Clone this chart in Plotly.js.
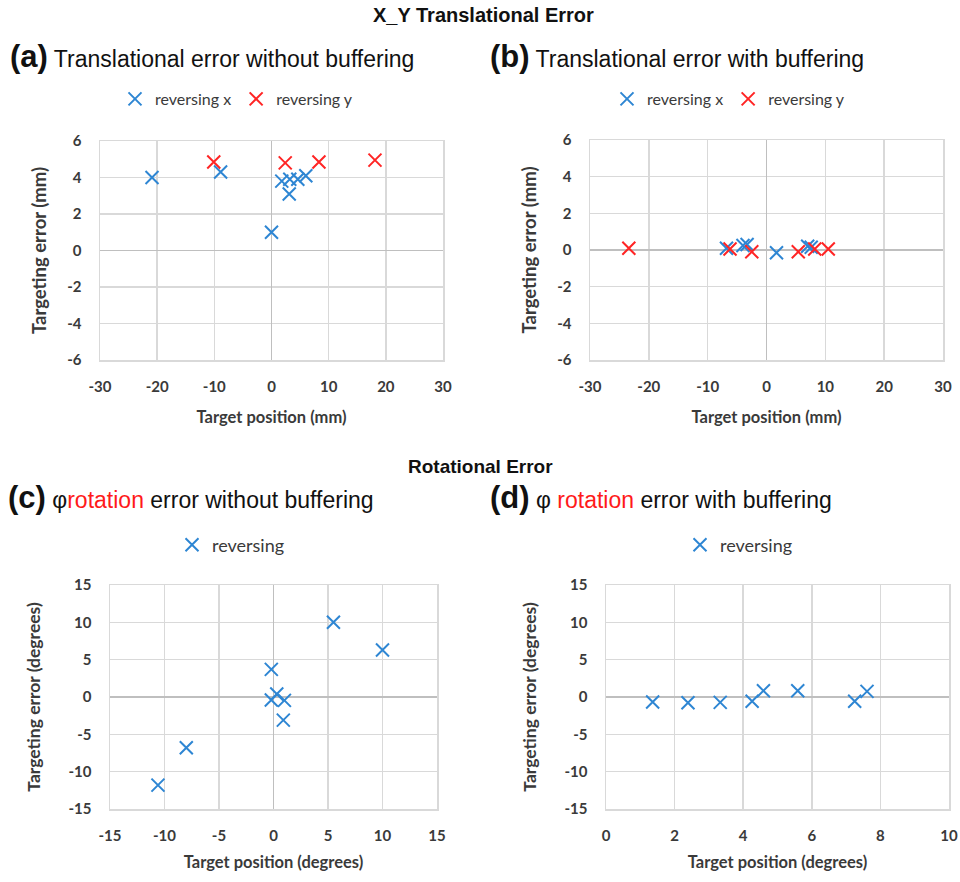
<!DOCTYPE html>
<html>
<head>
<meta charset="utf-8">
<script src="https://cdn.plot.ly/plotly-3.0.1.min.js"></script>
<style>html,body{margin:0;padding:0;background:#fff;}#chart{width:960px;height:882px;}</style>
</head>
<body>
<div id="chart"></div>
<script>
// ---- data ----
const seriesNames = ['reversing x', 'reversing y'];
const rotSeriesName = 'reversing';

// (a) translational error without buffering
const aBlueX = [-20.9, -8.9, 0.0, 1.8, 3.2, 4.6, 6.0, 3.1];
const aBlueY = [4.0, 4.3, 1.0, 3.8, 3.9, 3.9, 4.1, 3.1];
const aRedX = [-10.1, 2.4, 8.3, 18.1];
const aRedY = [4.85, 4.8, 4.85, 4.95];

// (b) translational error with buffering
const bBlueX = [-6.8, -4.0, -3.3, 1.7, 7.0, 7.6];
const bBlueY = [0.1, 0.25, 0.3, -0.15, 0.2, 0.15];
const bRedX = [-23.4, -6.2, -2.5, 5.4, 8.2, 10.5];
const bRedY = [0.1, 0.05, -0.1, -0.1, 0.05, 0.05];

// (c) rotation error without buffering
const cX = [5.5, 10.0, -0.2, 0.3, -0.2, 1.0, 0.9, -8.0, -10.6];
const cY = [10.0, 6.3, 3.7, 0.4, -0.4, -0.45, -3.1, -6.8, -11.8];

// (d) rotation error with buffering
const dX = [1.36, 2.39, 3.33, 4.26, 4.59, 5.59, 7.25, 7.61];
const dY = [-0.67, -0.76, -0.72, -0.58, 0.84, 0.84, -0.58, 0.75];

// tick values
const transXTicks = [-30, -20, -10, 0, 10, 20, 30];
const transYTicks = [-6, -4, -2, 0, 2, 4, 6];
const rotCXTicks = [-15, -10, -5, 0, 5, 10, 15];
const rotDXTicks = [0, 2, 4, 6, 8, 10];
const rotYTicks = [-15, -10, -5, 0, 5, 10, 15];

// ---- styling ----
const BLUE = '#2E86D3';
const RED = '#FF2424';
const GRID = '#D9D9D9';
const ZERO = '#BFBFBF';
const TXT = '#3a3a3a';
const CAL = 'Lato, Carlito, Calibri, sans-serif';
const SANS = '"Liberation Sans", Arial, sans-serif';

function mk(color) {
  return {symbol: 'x-thin', size: 13, color: color, line: {color: color, width: 2}};
}

const traces = [
  {x: aBlueX, y: aBlueY, xaxis: 'x', yaxis: 'y', name: seriesNames[0], mode: 'markers', marker: mk(BLUE), legend: 'legend'},
  {x: aRedX, y: aRedY, xaxis: 'x', yaxis: 'y', name: seriesNames[1], mode: 'markers', marker: mk(RED), legend: 'legend'},
  {x: bBlueX, y: bBlueY, xaxis: 'x2', yaxis: 'y2', name: seriesNames[0], mode: 'markers', marker: mk(BLUE), legend: 'legend2'},
  {x: bRedX, y: bRedY, xaxis: 'x2', yaxis: 'y2', name: seriesNames[1], mode: 'markers', marker: mk(RED), legend: 'legend2'},
  {x: cX, y: cY, xaxis: 'x3', yaxis: 'y3', name: rotSeriesName, mode: 'markers', marker: mk(BLUE), legend: 'legend3', showlegend: true},
  {x: dX, y: dY, xaxis: 'x4', yaxis: 'y4', name: rotSeriesName, mode: 'markers', marker: mk(BLUE), legend: 'legend4', showlegend: true}
];

function axis(domain, range, ticks, titleText, isX, standoff, titleSize) {
  return {
    domain: domain, range: range, tickvals: ticks, ticktext: ticks.map(String),
    showgrid: true, gridcolor: GRID, gridwidth: 1.5,
    zeroline: true, zerolinecolor: ZERO, zerolinewidth: 1.5,
    showline: true, mirror: true, linecolor: GRID, linewidth: 1.5,
    ticks: '', ticklabelstandoff: isX ? 12 : 14,
    tickfont: {family: CAL, size: 15, color: TXT, weight: 'bold'},
    title: {text: titleText, font: {family: CAL, size: titleSize, color: TXT, weight: 'bold'}, standoff: standoff},
    fixedrange: true, automargin: false
  };
}

const W = 960, H = 882;
const px = v => v / W;
const py = v => 1 - v / H;

const legendBase = {orientation: 'h', yanchor: 'middle', xanchor: 'left', bgcolor: 'rgba(0,0,0,0)',
  font: {family: CAL, size: 16, color: TXT}, itemwidth: 30, tracegroupgap: 0};

const layout = {
  width: W, height: H,
  margin: {l: 0, r: 0, t: 0, b: 0},
  paper_bgcolor: '#fff', plot_bgcolor: '#fff',
  showlegend: true,
  xaxis: Object.assign(axis([px(100), px(443)], [-30, 30], transXTicks, 'Target position (mm)', true, 18, 16.5), {anchor: 'y'}),
  yaxis: Object.assign(axis([py(360), py(141)], [-6, 6], transYTicks, 'Targeting error (mm)', false, 15, 18.5), {anchor: 'x'}),
  xaxis2: Object.assign(axis([px(590), px(943)], [-30, 30], transXTicks, 'Target position (mm)', true, 18, 16.5), {anchor: 'y2'}),
  yaxis2: Object.assign(axis([py(360), py(140)], [-6, 6], transYTicks, 'Targeting error (mm)', false, 15, 18.5), {anchor: 'x2'}),
  xaxis3: Object.assign(axis([px(110), px(437)], [-15, 15], rotCXTicks, 'Target position (degrees)', true, 14, 16.5), {anchor: 'y3'}),
  yaxis3: Object.assign(axis([py(809), py(585)], [-15, 15], rotYTicks, 'Targeting error (degrees)', false, 23, 17.5), {anchor: 'x3'}),
  xaxis4: Object.assign(axis([px(606), px(949)], [0, 10], rotDXTicks, 'Target position (degrees)', true, 14, 16.5), {anchor: 'y4'}),
  yaxis4: Object.assign(axis([py(809), py(585)], [-15, 15], rotYTicks, 'Targeting error (degrees)', false, 23, 17.5), {anchor: 'x4'}),
  legend: Object.assign({}, legendBase, {x: px(115), y: py(99)}),
  legend2: Object.assign({}, legendBase, {x: px(607), y: py(99)}),
  legend3: Object.assign({}, legendBase, {x: px(172), y: py(545), font: {family: CAL, size: 18, color: TXT}}),
  legend4: Object.assign({}, legendBase, {x: px(680), y: py(545), font: {family: CAL, size: 18, color: TXT}}),
  annotations: [
    {text: '<b>X_Y Translational Error</b>', x: px(483), y: py(15), xref: 'paper', yref: 'paper', showarrow: false,
     xanchor: 'center', yanchor: 'middle', font: {family: SANS, size: 20, color: '#111'}},
    {text: '<b><span style="font-size:31px">(a)</span></b> Translational error without buffering', x: px(8), y: py(57), xref: 'paper', yref: 'paper', showarrow: false,
     xanchor: 'left', yanchor: 'middle', font: {family: SANS, size: 23, color: '#111'}},
    {text: '<b><span style="font-size:31px">(b)</span></b> Translational error with buffering', x: px(488), y: py(57), xref: 'paper', yref: 'paper', showarrow: false,
     xanchor: 'left', yanchor: 'middle', font: {family: SANS, size: 23, color: '#111'}},
    {text: '<b>Rotational Error</b>', x: px(480), y: py(466), xref: 'paper', yref: 'paper', showarrow: false,
     xanchor: 'center', yanchor: 'middle', font: {family: SANS, size: 19, color: '#111'}},
    {text: '<b><span style="font-size:31px">(c)</span></b> φ<span style="color:#FF1A1A">rotation</span> error without buffering', x: px(6), y: py(497), xref: 'paper', yref: 'paper', showarrow: false,
     xanchor: 'left', yanchor: 'middle', font: {family: SANS, size: 23, color: '#111'}},
    {text: '<b><span style="font-size:31px">(d)</span></b> φ <span style="color:#FF1A1A">rotation</span> error with buffering', x: px(488), y: py(497), xref: 'paper', yref: 'paper', showarrow: false,
     xanchor: 'left', yanchor: 'middle', font: {family: SANS, size: 23, color: '#111'}}
  ]
};

Plotly.newPlot('chart', traces, layout, {displayModeBar: false, staticPlot: true});
</script>
</body>
</html>
